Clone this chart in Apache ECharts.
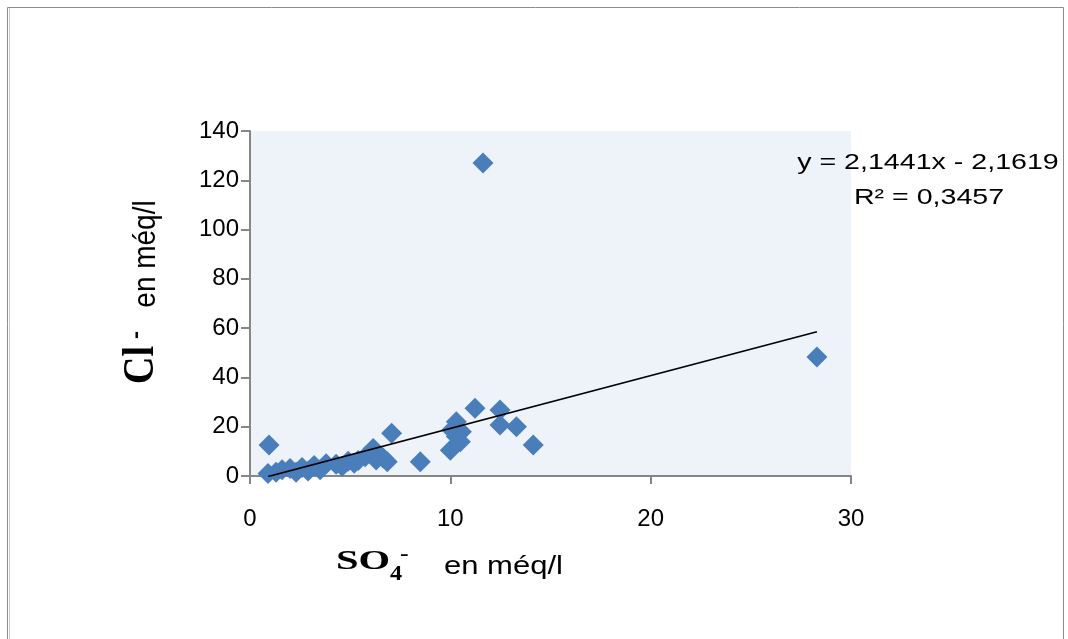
<!DOCTYPE html>
<html>
<head>
<meta charset="utf-8">
<script src="https://cdn.jsdelivr.net/npm/echarts@6/dist/echarts.min.js"></script>
<style>
  html, body { margin: 0; padding: 0; background: #ffffff; }
  #chart { width: 1068px; height: 639px; }
</style>
</head>
<body>
<div id="chart"></div>
<script>
// Sulphate (x) against chloride (y) concentrations, both in méq/l
const so4 = [0.95, 0.9, 1.3, 1.6, 2.0, 2.3, 2.6, 2.9, 3.2, 3.5, 3.8, 4.3, 4.6, 4.9, 5.2, 5.4,
             5.75, 6.15, 6.3, 6.65, 6.85, 7.07, 8.5, 10.0, 10.07, 10.3, 10.3, 10.5, 10.55,
             11.23, 11.63, 12.48, 12.48, 13.3, 14.14, 28.3];
const cl  = [12.6, 1.0, 1.5, 2.5, 3.0, 1.5, 3.5, 2.0, 4.3, 2.5, 5.0, 4.8, 4.0, 6.0, 5.2, 6.3,
             7.8, 11.2, 6.5, 7.3, 5.8, 17.3, 5.8, 10.5, 18.7, 22.0, 16.0, 13.9, 18.0,
             27.5, 127.0, 26.8, 20.7, 20.0, 12.6, 48.3];

// Linear trend line reported on the chart
const slope = 2.1441;
const intercept = -2.1619;
const r2Text = 'R² = 0,3457';
const eqText = 'y = 2,1441x - 2,1619';

const xTicks = { min: 0, max: 30, interval: 10 };
const yTicks = { min: 0, max: 140, interval: 20 };

const points = so4.map((v, i) => [v, cl[i]]);
const xMin = Math.min(...so4), xMax = Math.max(...so4);
const trend = [[xMin, slope * xMin + intercept], [xMax, slope * xMax + intercept]];

const chart = echarts.init(document.getElementById('chart'), null, { renderer: 'canvas' });

const axisGrey = '#868686';
const labelFont = 'Liberation Sans';
const serifFont = 'Liberation Serif';

chart.setOption({
  animation: false,
  backgroundColor: '#ffffff',
  grid: {
    left: 250, top: 131, width: 601, height: 345,
    show: true, backgroundColor: '#eef2f9', borderWidth: 0
  },
  xAxis: {
    type: 'value', min: xTicks.min, max: xTicks.max, interval: xTicks.interval,
    axisLine: { show: true, onZero: false, lineStyle: { color: axisGrey, width: 2 } },
    axisTick: { show: true, inside: false, length: 8, lineStyle: { color: axisGrey, width: 2 } },
    splitLine: { show: false },
    axisLabel: { margin: 31, fontFamily: labelFont, fontSize: 24, color: '#000' }
  },
  yAxis: {
    type: 'value', min: yTicks.min, max: yTicks.max, interval: yTicks.interval,
    axisLine: { show: true, onZero: false, lineStyle: { color: axisGrey, width: 2 } },
    axisTick: { show: true, inside: false, length: 9, lineStyle: { color: axisGrey, width: 2 } },
    splitLine: { show: false },
    axisLabel: { margin: 11, fontFamily: labelFont, fontSize: 24, color: '#000' }
  },
  series: [
    {
      type: 'scatter', data: points, symbol: 'diamond', symbolSize: 21,
      itemStyle: { color: '#4a7ebb', opacity: 1 }, z: 3
    },
    {
      type: 'line', data: trend, showSymbol: false, symbol: 'none',
      lineStyle: { color: '#000', width: 1.6 }, z: 4
    }
  ],
  graphic: [
    // outer frame
    { type: 'rect', shape: { x: 7.5, y: 7.5, width: 1056, height: 700 },
      style: { fill: null, stroke: '#8c8c8c', lineWidth: 1 }, silent: true },
    { type: 'line', shape: { x1: 9.5, y1: 8, x2: 9.5, y2: 639 },
      style: { stroke: '#c8c8c8', lineWidth: 1 }, silent: true },

    // trend line equation
    { type: 'text', x: 928, y: 163, scaleX: 1.3,
      style: { text: eqText, fontFamily: labelFont, fontSize: 22, fill: '#000',
               align: 'center', verticalAlign: 'middle' } },
    { type: 'text', x: 929, y: 198, scaleX: 1.3,
      style: { text: r2Text, fontFamily: labelFont, fontSize: 22, fill: '#000',
               align: 'center', verticalAlign: 'middle' } },

    // x axis title: SO4- en méq/l
    { type: 'text', x: 336, y: 576, scaleX: 1.45,
      style: { text: 'SO', fontFamily: serifFont, fontWeight: 'bold', fontSize: 28,
               fill: '#000', align: 'left', verticalAlign: 'bottom' } },
    { type: 'text', x: 390, y: 585, scaleX: 1.1,
      style: { text: '4', fontFamily: serifFont, fontWeight: 'bold', fontSize: 22,
               fill: '#000', align: 'left', verticalAlign: 'bottom' } },
    { type: 'text', x: 400, y: 565, scaleX: 1.3,
      style: { text: '-', fontFamily: serifFont, fontWeight: 'bold', fontSize: 20,
               fill: '#000', align: 'left', verticalAlign: 'bottom' } },
    { type: 'text', x: 444, y: 567, scaleX: 1.24,
      style: { text: 'en méq/l', fontFamily: labelFont, fontSize: 25, fill: '#000',
               align: 'left', verticalAlign: 'middle' } },

    // y axis title: Cl- en méq/l (reads bottom to top)
    { type: 'text', x: 141, y: 365, rotation: Math.PI / 2, scaleY: 1.18,
      style: { text: 'Cl', fontFamily: serifFont, fontWeight: 'bold', fontSize: 38,
               fill: '#000', align: 'center', verticalAlign: 'middle' } },
    { type: 'text', x: 137, y: 335, rotation: Math.PI / 2, scaleY: 1.2,
      style: { text: '-', fontFamily: serifFont, fontWeight: 'bold', fontSize: 24,
               fill: '#000', align: 'center', verticalAlign: 'middle' } },
    { type: 'text', x: 147, y: 254, rotation: Math.PI / 2, scaleY: 1.1,
      style: { text: 'en méq/l', fontFamily: labelFont, fontSize: 28, fill: '#000',
               align: 'center', verticalAlign: 'middle' } }
  ]
});
</script>
</body>
</html>
